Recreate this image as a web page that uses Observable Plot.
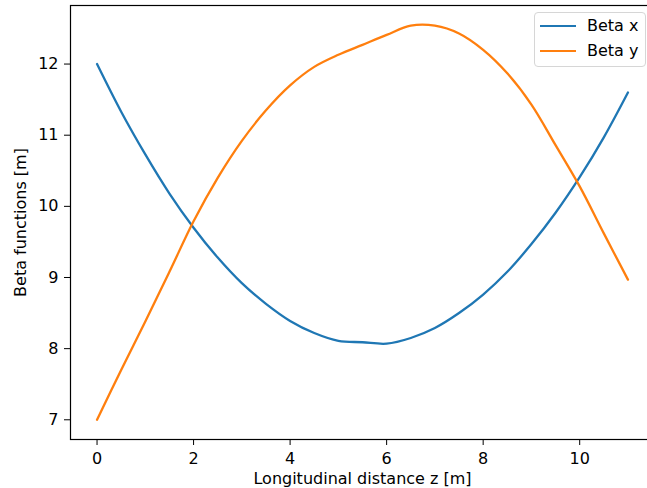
<!DOCTYPE html>
<html><head><meta charset="utf-8">
<script src="https://cdn.jsdelivr.net/npm/d3@7"></script>
<script src="https://cdn.jsdelivr.net/npm/@observablehq/plot@0.6"></script>
<style>
html,body{margin:0;padding:0;background:#fff;overflow:hidden;}
#wrap{position:relative;width:647px;height:488px;overflow:hidden;}
#wrap svg{max-width:none !important;}
#legend{position:absolute;left:534px;top:12px;width:112px;height:55px;box-sizing:border-box;border:1px solid #d6d6d6;border-radius:4px;background:rgba(255,255,255,0.8);font-family:"DejaVu Sans";font-size:16px;color:#000;}
.item{position:absolute;left:0;height:20px;}
.sw{position:absolute;left:5px;width:36px;height:2.4px;}
.lab{position:absolute;left:52px;white-space:nowrap;line-height:20px;top:-10px;}
</style></head>
<body><div id="wrap"></div>
<script>
const z = [0,0.5,1,1.5,2,2.5,3,3.5,4,4.5,5,5.5,6,6.5,7,7.5,8,8.5,9,9.5,10,10.5,11];
const betaX = [12.00,11.33,10.73,10.18,9.70,9.28,8.92,8.63,8.39,8.22,8.11,8.09,8.07,8.15,8.29,8.50,8.76,9.08,9.47,9.91,10.41,10.97,11.60];
const betaY = [7.00,7.70,8.38,9.08,9.79,10.40,10.92,11.35,11.70,11.96,12.13,12.27,12.41,12.54,12.54,12.43,12.20,11.87,11.43,10.86,10.28,9.62,8.97];
const seriesNames = ["Beta x","Beta y"];
const seriesColors = ["#1f77b4","#ff7f0e"];
const xTicks = [0,2,4,6,8,10];
const yTicks = [7,8,9,10,11,12];
const xLabel = "Longitudinal distance z [m]";
const yLabel = "Beta functions [m]";

const rows = [];
z.forEach((v,i)=>{
  rows.push({z:v, beta:betaX[i], s:seriesNames[0]});
  rows.push({z:v, beta:betaY[i], s:seriesNames[1]});
});

const chart = Plot.plot({
  width: 655, height: 488,
  marginLeft: 70, marginRight: 1, marginTop: 5, marginBottom: 49,
  style: {fontFamily: "DejaVu Sans", fontSize: "16px", background: "#fff", color: "#000", maxWidth: "none"},
  x: {domain: [-0.55, 11.55], ticks: xTicks, tickFormat: d => String(d), tickSize: 6, tickPadding: 7,
      label: xLabel, labelAnchor: "center", labelOffset: 44, labelArrow: "none"},
  y: {domain: [6.723, 12.823], ticks: yTicks, tickFormat: d => String(d), tickSize: 6, tickPadding: 6,
      label: yLabel, labelAnchor: "center", labelOffset: 56, labelArrow: "none"},
  color: {domain: seriesNames, range: seriesColors},
  marks: [
    Plot.line(rows, {x: "z", y: "beta", stroke: "s", z: "s", strokeWidth: 2.3, curve: "catmull-rom"}),
    Plot.frame({stroke: "#000", strokeWidth: 1.2})
  ]
});
chart.style.maxWidth = "none";
const wrap = document.getElementById("wrap");
wrap.appendChild(chart);

const leg = document.createElement("div");
leg.id = "legend";
seriesNames.forEach((n,i)=>{
  const it = document.createElement("div");
  it.className = "item";
  it.style.top = (13 + i*25) + "px";
  const sw = document.createElement("div");
  sw.className = "sw";
  sw.style.background = seriesColors[i];
  sw.style.top = "-1.2px";
  const lb = document.createElement("div");
  lb.className = "lab";
  lb.textContent = n;
  it.appendChild(sw); it.appendChild(lb);
  leg.appendChild(it);
});
wrap.appendChild(leg);
</script>
</body></html>
